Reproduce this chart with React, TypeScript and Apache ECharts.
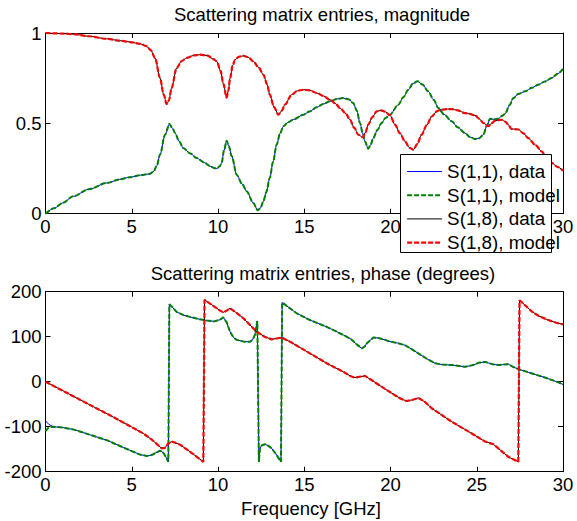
import React, { useEffect, useRef } from "react";
import * as echarts from "echarts";

// Frequency axis ticks (GHz)
const freqTicks = [0, 5, 10, 15, 20, 25, 30];
// Top-panel frequency tick labels hidden behind the legend box in the reference
const hiddenTopTicks = [25];

// |S(1,1)| magnitude [freq, value]
const s11Mag: number[][] = [
  [0, 0.0], [0.5, 0.03], [1, 0.06], [1.61, 0.096], [2.5, 0.135], [3.55, 0.17], [4.3, 0.19], [4.9, 0.202],
  [5.5, 0.213], [6.06, 0.221], [6.25, 0.232], [6.45, 0.265], [6.64, 0.327], [6.93, 0.437], [7.18, 0.496],
  [7.35, 0.475], [7.51, 0.446], [7.75, 0.4], [7.99, 0.363], [8.4, 0.333], [8.76, 0.308], [9.2, 0.283],
  [9.54, 0.263], [9.8, 0.252], [9.93, 0.25], [10.1, 0.262], [10.21, 0.28], [10.35, 0.35], [10.5, 0.404],
  [10.62, 0.375], [10.8, 0.318], [11.08, 0.216], [11.4, 0.165], [11.66, 0.124], [12.05, 0.059], [12.3, 0.019],
  [12.45, 0.03], [12.63, 0.068], [12.8, 0.12], [13.0, 0.197], [13.2, 0.29], [13.4, 0.382], [13.6, 0.445],
  [13.79, 0.484], [14.05, 0.505], [14.37, 0.521], [14.95, 0.548], [15.3, 0.565], [15.72, 0.589], [16.1, 0.607],
  [16.49, 0.622], [16.9, 0.635], [17.26, 0.64], [17.6, 0.632], [17.84, 0.612], [18.05, 0.57], [18.23, 0.502],
  [18.4, 0.44], [18.52, 0.4], [18.71, 0.36], [18.85, 0.382], [19.0, 0.418], [19.25, 0.465], [19.48, 0.502],
  [19.72, 0.53], [19.97, 0.548], [20.45, 0.603], [20.75, 0.645], [21.03, 0.686], [21.3, 0.72], [21.57, 0.733],
  [21.85, 0.715], [22.19, 0.677], [22.5, 0.63], [22.77, 0.585], [23.1, 0.55], [23.55, 0.511], [23.9, 0.478],
  [24.32, 0.446], [24.6, 0.425], [24.9, 0.413], [25.15, 0.418], [25.38, 0.437], [25.6, 0.49], [25.77, 0.526],
  [26.0, 0.522], [26.25, 0.526], [26.45, 0.54], [26.64, 0.552], [26.9, 0.6], [27.12, 0.64], [27.4, 0.662],
  [27.8, 0.677], [28.2, 0.697], [28.57, 0.714], [28.95, 0.732], [29.34, 0.751], [29.7, 0.775], [30.0, 0.802],
];

// |S(1,8)| magnitude [freq, value]
const s18Mag: number[][] = [
  [0, 1.0], [1, 0.997], [1.6, 0.994], [2.5, 0.982], [3.55, 0.968], [4.3, 0.958], [4.9, 0.95], [5.5, 0.94],
  [5.87, 0.926], [6.1, 0.905], [6.35, 0.862], [6.64, 0.751], [6.85, 0.66], [7.02, 0.607], [7.15, 0.625],
  [7.31, 0.696], [7.6, 0.806], [7.9, 0.845], [8.18, 0.862], [8.6, 0.876], [8.96, 0.88], [9.4, 0.875],
  [9.73, 0.855], [9.93, 0.843], [10.15, 0.79], [10.31, 0.72], [10.5, 0.642], [10.6, 0.68], [10.7, 0.75],
  [10.85, 0.82], [10.99, 0.852], [11.2, 0.868], [11.47, 0.874], [11.75, 0.866], [12.05, 0.843], [12.35, 0.81],
  [12.63, 0.77], [12.85, 0.715], [13.0, 0.659], [13.25, 0.59], [13.5, 0.548], [13.7, 0.57], [13.88, 0.604],
  [14.27, 0.659], [14.6, 0.68], [14.95, 0.686], [15.3, 0.683], [15.72, 0.668], [16.1, 0.652], [16.49, 0.631],
  [16.8, 0.61], [17.07, 0.585], [17.4, 0.555], [17.65, 0.52], [17.9, 0.475], [18.13, 0.437], [18.39, 0.423],
  [18.55, 0.45], [18.71, 0.493], [18.95, 0.535], [19.2, 0.566], [19.45, 0.572], [19.68, 0.565], [19.97, 0.545],
  [20.26, 0.493], [20.55, 0.445], [20.84, 0.4], [21.1, 0.365], [21.32, 0.354], [21.55, 0.385], [21.8, 0.437],
  [22.1, 0.49], [22.39, 0.538], [22.7, 0.568], [22.97, 0.576], [23.3, 0.579], [23.55, 0.579], [23.9, 0.572],
  [24.32, 0.557], [24.6, 0.552], [24.9, 0.544], [25.15, 0.525], [25.38, 0.502], [25.67, 0.484], [25.85, 0.5],
  [26.06, 0.515], [26.45, 0.52], [26.65, 0.51], [26.83, 0.493], [27.0, 0.469], [27.2, 0.468], [27.42, 0.466],
  [27.7, 0.445], [27.99, 0.418], [28.4, 0.38], [28.76, 0.345], [29.05, 0.31], [29.34, 0.281], [29.7, 0.258],
  [30.0, 0.238],
];

// Phase of S(1,1) in degrees: data and model differ only at the start
const s11PhaseDataHead: number[][] = [[0, -87], [0.2, -95]];
const s11PhaseModelHead: number[][] = [[0, -110], [0.2, -101]];
const s11PhaseTail: number[][] = [
  [0.45, -100], [1.0, -102], [1.61, -106], [2.5, -117], [3.55, -130], [4.5, -146], [5.48, -162], [5.87, -165],
  [6.15, -163], [6.35, -159], [6.64, -153], [6.83, -158], [7.02, -170], [7.12, -178], [7.18, 172], [7.35, 166],
  [7.6, 155], [8.0, 148], [8.37, 144], [8.9, 139], [9.35, 136], [9.8, 134], [10.12, 138], [10.31, 143],
  [10.5, 132], [10.7, 111], [10.9, 98], [11.08, 93], [11.5, 89], [11.86, 89], [12.0, 93], [12.14, 104],
  [12.28, 135], [12.37, -178], [12.43, -148], [12.55, -141], [12.72, -139], [12.9, -142], [13.11, -148],
  [13.4, -163], [13.65, -178], [13.72, 176], [14.0, 168], [14.56, 152], [15.33, 137], [16.3, 122], [17.26, 104],
  [17.7, 95], [18.04, 83], [18.33, 74], [18.5, 78], [18.62, 85], [19.0, 98], [19.3, 97], [19.68, 93],
  [19.97, 89], [20.4, 86], [20.84, 81], [21.2, 73], [21.61, 63], [22.1, 51], [22.58, 41], [23.0, 38],
  [23.55, 37], [24.0, 35], [24.32, 33], [24.8, 37], [25.1, 42], [25.48, 44], [25.9, 39], [26.25, 37],
  [26.55, 38], [26.83, 39], [27.1, 33], [27.41, 28], [27.9, 22], [28.38, 16], [28.9, 10], [29.34, 4],
  [29.7, -1], [30.0, -6],
];

// Phase of S(1,8) in degrees
const s18Phase: number[][] = [
  [0, 0], [1, -20], [2, -40], [3, -60], [4, -80], [5, -101], [5.67, -115], [6.2, -130], [6.73, -148],
  [6.93, -147], [7.1, -138], [7.31, -133], [7.55, -136], [7.8, -140], [8.5, -159], [9.15, -178], [9.22, 182],
  [9.6, 172], [10.12, 158], [10.31, 154], [10.5, 158], [10.7, 163], [11.0, 155], [11.47, 141], [12.24, 111],
  [12.7, 100], [13.11, 94], [13.4, 96], [13.69, 98], [14.17, 89], [15.33, 63], [16.3, 41], [17.26, 22],
  [17.7, 12], [17.94, 9], [18.2, 11], [18.52, 13], [18.8, 6], [19.2, -4], [19.68, -16], [20.26, -30],
  [20.6, -38], [20.94, -43], [21.3, -40], [21.61, -36], [22.0, -45], [22.39, -59], [23.55, -89], [24.71, -115],
  [25.48, -133], [25.96, -139], [26.4, -153], [26.83, -167], [27.41, -178], [27.48, 181], [27.8, 170],
  [28.19, 156], [28.6, 146], [29.15, 137], [29.6, 131], [30.0, 127.5],
];

const seriesNames = ["S(1,1), data", "S(1,1), model", "S(1,8), data", "S(1,8), model"];
const titles = ["Scattering matrix entries, magnitude", "Scattering matrix entries, phase (degrees)"];
const xLabel = "Frequency [GHz]";

const FONT = '"Liberation Sans", Arial, Helvetica, sans-serif';
const FS = 18.5;

function xAx(grid: number, pos: string, show: boolean) {
  return {
    type: "value",
    gridIndex: grid,
    position: pos,
    min: freqTicks[0],
    max: freqTicks[freqTicks.length - 1],
    interval: 5,
    axisLine: { show: true, onZero: false, lineStyle: { color: "#000", width: 1 } },
    axisTick: { show: true, inside: true, length: 5, lineStyle: { color: "#000", width: 1 } },
    axisLabel: {
      show,
      margin: 3,
      color: "#000",
      fontSize: FS,
      fontFamily: FONT,
      showMinLabel: true,
      showMaxLabel: true,
      formatter: (v: number) => (grid === 0 && hiddenTopTicks.includes(v) ? "" : String(v)),
    },
    splitLine: { show: false },
  };
}

function yAx(grid: number, pos: string, show: boolean, min: number, max: number, interval: number) {
  return {
    type: "value",
    gridIndex: grid,
    position: pos,
    min,
    max,
    interval,
    axisLine: { show: true, onZero: false, lineStyle: { color: "#000", width: 1 } },
    axisTick: { show: true, inside: true, length: 5, lineStyle: { color: "#000", width: 1 } },
    axisLabel: { show, margin: 4, color: "#000", fontSize: FS, fontFamily: FONT, showMinLabel: true, showMaxLabel: true },
    splitLine: { show: false },
  };
}

const styles = [
  { color: "#0000ff", width: 1, type: "solid" },
  { color: "#008000", width: 2, type: [5, 2] },
  { color: "#000000", width: 1, type: "solid" },
  { color: "#ff0000", width: 2.2, type: [5, 2] },
];

function mkSeries(nameIdx: number, data: number[][], axisIdx: number) {
  const s = styles[nameIdx];
  return {
    type: "line",
    name: seriesNames[nameIdx],
    xAxisIndex: axisIdx,
    yAxisIndex: axisIdx,
    data,
    symbol: "none",
    showSymbol: false,
    smooth: axisIdx === 0 ? 0.3 : false,
    smoothMonotone: "x",
    lineStyle: { color: s.color, width: s.width, type: s.type },
    itemStyle: { color: s.color },
    emphasis: { disabled: true },
  };
}

export default function App() {
  const ref = useRef<HTMLDivElement>(null);
  useEffect(() => {
    if (!ref.current) return;
    const chart = echarts.init(ref.current, null, { renderer: "svg" });
    const titleStyle = { fontSize: FS, fontWeight: "normal", color: "#000", fontFamily: FONT };
    const option: any = {
      animation: false,
      backgroundColor: "#ffffff",
      textStyle: { fontFamily: FONT },
      title: [
        { text: titles[0], left: 322, top: 5, textAlign: "center", padding: 0, textStyle: titleStyle },
        { text: titles[1], left: 323, top: 263.5, textAlign: "center", padding: 0, textStyle: titleStyle },
        { text: xLabel, left: 311, top: 499, textAlign: "center", padding: 0, textStyle: titleStyle },
      ],
      grid: [
        { left: 45.5, top: 33, width: 517.5, height: 180.7 },
        { left: 45.5, top: 291.7, width: 517.5, height: 180 },
      ],
      xAxis: [xAx(0, "bottom", true), xAx(1, "bottom", true), xAx(0, "top", false), xAx(1, "top", false)],
      yAxis: [
        yAx(0, "left", true, 0, 1, 0.5),
        yAx(1, "left", true, -200, 200, 100),
        yAx(0, "right", false, 0, 1, 0.5),
        yAx(1, "right", false, -200, 200, 100),
      ],
      graphic: [
        {
          type: "rect",
          z: 100,
          shape: { x: 400.5, y: 154.5, width: 151, height: 98 },
          style: { fill: "#ffffff", stroke: "#000000", lineWidth: 1 },
        },
      ],
      legend: {
        show: true,
        z: 110,
        orient: "vertical",
        left: 406,
        top: 162,
        padding: 0,
        itemWidth: 35,
        itemHeight: 12,
        itemGap: 4.7,
        data: seriesNames,
        selectedMode: false,
        itemStyle: { opacity: 0 },
        lineStyle: { width: "inherit", type: "inherit", color: "inherit" },
        textStyle: { fontSize: 18.8, color: "#000", fontFamily: FONT, lineHeight: 18 },
      },
      series: [
        mkSeries(0, s11Mag, 0),
        mkSeries(1, s11Mag, 0),
        mkSeries(2, s18Mag, 0),
        mkSeries(3, s18Mag, 0),
        mkSeries(0, [...s11PhaseDataHead, ...s11PhaseTail], 1),
        mkSeries(1, [...s11PhaseModelHead, ...s11PhaseTail], 1),
        mkSeries(2, s18Phase, 1),
        mkSeries(3, s18Phase, 1),
      ],
    };
    chart.setOption(option);
    return () => chart.dispose();
  }, []);
  return (
    <div
      ref={ref}
      style={{ position: "absolute", left: 0, top: 0, width: 577, height: 521, background: "#fff" }}
    />
  );
}
